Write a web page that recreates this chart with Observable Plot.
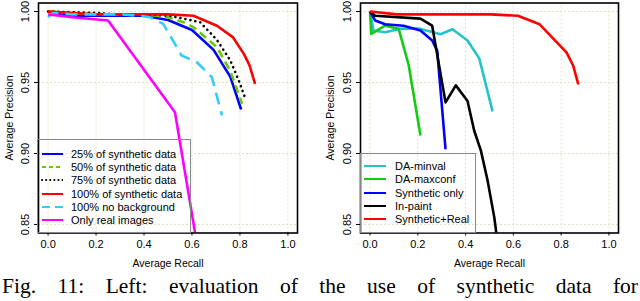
<!DOCTYPE html>
<html><head><meta charset="utf-8">
<script src="https://cdn.jsdelivr.net/npm/d3@7"></script>
<script src="https://cdn.jsdelivr.net/npm/@observablehq/plot@0.6"></script>
<style>
body{margin:0;background:#fff;overflow:hidden;}
#wrap{position:relative;width:640px;height:301px;overflow:hidden;}
.panel{position:absolute;top:0;overflow:visible;}
.legend{position:absolute;border:1px solid #888;box-sizing:border-box;font-family:"Liberation Sans",Arial,sans-serif;font-size:11px;color:#000;}
.legend .row{position:absolute;left:0;height:14px;white-space:nowrap;}
.legend svg{position:absolute;top:0;}
.legend span{position:absolute;top:0;line-height:14px;}
#caption{position:absolute;left:2px;top:276px;width:636px;font-family:"Liberation Serif","Times New Roman",serif;font-size:21.5px;line-height:21px;text-align:justify;text-align-last:justify;color:#000;white-space:nowrap;}
</style>
</head><body>
<div id="wrap"></div>
<script>
// ---- data ----
const xTicks = [0, 0.2, 0.4, 0.6, 0.8, 1.0];
const yTicks = [0.85, 0.90, 0.95, 1.00];

// Left panel
const leftNames = ["25% of synthetic data","50% of synthetic data","75% of synthetic data","100% of synthetic data","100% no background","Only real images"];
const syn25Recall = [0,0.05,0.1,0.2,0.3,0.4,0.5,0.6,0.69,0.76,0.805];
const syn25Prec   = [1.0,0.998,0.997,0.997,0.997,0.997,0.994,0.987,0.973,0.954,0.931];
const syn50Recall = [0,0.1,0.2,0.3,0.4,0.5,0.564,0.606,0.704,0.76,0.809];
const syn50Prec   = [1.0,0.999,0.998,0.998,0.998,0.996,0.9925,0.989,0.975,0.958,0.935];
const syn75Recall = [0,0.1,0.2,0.3,0.4,0.508,0.634,0.704,0.76,0.796,0.823];
const syn75Prec   = [1.0,0.9995,0.999,0.998,0.998,0.997,0.9925,0.98,0.9655,0.951,0.9385];
const syn100Recall = [0,0.1,0.2,0.3,0.4,0.5,0.606,0.704,0.77,0.817,0.84,0.863];
const syn100Prec   = [1.0,0.999,0.998,0.998,0.998,0.998,0.997,0.99,0.982,0.97,0.962,0.949];
const noBgRecall = [0,0.02,0.1,0.2,0.3,0.38,0.424,0.48,0.557,0.62,0.683,0.725];
const noBgPrec   = [0.996,0.999,0.998,0.998,0.998,0.997,0.996,0.9913,0.969,0.9643,0.9537,0.9268];
const realRecall = [0,0.1,0.25,0.529,0.62];
const realPrec   = [0.998,0.996,0.9937,0.929,0.837];

// Right panel
const rightNames = ["DA-minval","DA-maxconf","Synthetic only","In-paint","Synthetic+Real"];
const minvalRecall = [0,0.014,0.063,0.127,0.204,0.295,0.345,0.408,0.457,0.513];
const minvalPrec   = [1.0,0.9866,0.9854,0.9878,0.988,0.984,0.9875,0.9796,0.967,0.9296];
const maxconfRecall = [0,0.005,0.063,0.12,0.162,0.211];
const maxconfPrec   = [1.0,0.9843,0.990,0.9878,0.962,0.9127];
const synOnlyRecall = [0,0.021,0.063,0.14,0.211,0.26,0.281,0.316];
const synOnlyPrec   = [1.0,0.9937,0.991,0.990,0.9866,0.9796,0.9725,0.903];
const inpaintRecall = [0,0.021,0.211,0.26,0.316,0.359,0.408,0.436,0.464,0.492,0.52,0.53];
const inpaintPrec   = [1.0,0.997,0.995,0.990,0.936,0.948,0.937,0.916,0.902,0.881,0.855,0.842];
const synRealRecall = [0,0.113,0.2,0.3,0.4,0.506,0.619,0.71,0.823,0.85,0.872];
const synRealPrec   = [1.0,0.998,0.998,0.998,0.998,0.998,0.997,0.991,0.971,0.962,0.9486];

const caption = "Fig. 11: Left: evaluation of the use of synthetic data for";

// ---- styles ----
const leftStyles = [
  {color:"#0000ff", dash:null, legDash:null},
  {color:"#66cc00", dash:"8,5", legDash:"4,3"},
  {color:"#000000", dash:"0.1,5", legDash:"0.1,4", round:true},
  {color:"#ff0000", dash:null, legDash:null},
  {color:"#33ccff", dash:"12,7", legDash:"8,5"},
  {color:"#ff00ff", dash:null, legDash:null}
];
const rightStyles = [
  {color:"#22c4cc", dash:null, legDash:null},
  {color:"#11cc11", dash:null, legDash:null},
  {color:"#0000ff", dash:null, legDash:null},
  {color:"#000000", dash:null, legDash:null},
  {color:"#ff0000", dash:null, legDash:null}
];

const leftData = [[syn25Recall,syn25Prec],[syn50Recall,syn50Prec],[syn75Recall,syn75Prec],[syn100Recall,syn100Prec],[noBgRecall,noBgPrec],[realRecall,realPrec]];
const rightData = [[minvalRecall,minvalPrec],[maxconfRecall,maxconfPrec],[synOnlyRecall,synOnlyPrec],[inpaintRecall,inpaintPrec],[synRealRecall,synRealPrec]];

function toRows(pair){ return pair[0].map((r,i)=>({r, p: pair[1][i]})); }

function makePanel(data, styles, mLeft, mRight){
  const lines = data.map((pair,i)=>Plot.line(toRows(pair), {
    x:"r", y:"p", stroke: styles[i].color, strokeWidth: 2.6,
    strokeDasharray: styles[i].dash || undefined,
    strokeLinecap: styles[i].round ? "round" : "butt",
    strokeLinejoin: "round", clip: true
  }));
  return Plot.plot({
    width: 320, height: 270,
    marginLeft: mLeft, marginRight: mRight, marginTop: 2.5, marginBottom: 37.5,
    x: {domain: [-0.04, 1.04]},
    y: {domain: [0.844, 1.006]},
    style: {fontFamily: "'Liberation Sans', Arial, sans-serif", fontSize: "11px", background: "transparent", color: "#000", overflow: "visible"},
    marks: [
      Plot.gridX(xTicks, {stroke: "#e8dfb8", strokeOpacity: 1, strokeDasharray: "2,2", strokeWidth: 1}),
      Plot.gridY(yTicks, {stroke: "#e8dfb8", strokeOpacity: 1, strokeDasharray: "2,2", strokeWidth: 1}),
      ...lines,
      Plot.frame({stroke: "#000", strokeWidth: 1.6}),
      Plot.axisX({ticks: xTicks, tickFormat: d3.format(".1f"), tickSize: 3, tickPadding: 4, fontSize: 11, label: null}),
      Plot.axisY({ticks: yTicks, tickFormat: () => "", tickSize: 4, label: null}),
      Plot.text(yTicks, {y: d => d, frameAnchor: "left", dx: -13, rotate: -90, text: d3.format(".2f"), fontSize: 11, textAnchor: "middle", lineAnchor: "middle"}),
      Plot.text(["Average Recall"], {frameAnchor: "bottom", dy: 30.5, textAnchor: "middle", lineAnchor: "middle", fontSize: 10.5}),
      Plot.text(["Average Precision"], {frameAnchor: "left", dx: mLeft === 38 ? -29 : -30, rotate: -90, textAnchor: "middle", lineAnchor: "middle", fontSize: 10.5})
    ]
  });
}

const wrap = document.getElementById("wrap");
const left = makePanel(leftData, leftStyles, 38, 23);
left.classList.add("panel"); left.style.left = "0px";
wrap.appendChild(left);
const right = makePanel(rightData, rightStyles, 40, 22);
right.classList.add("panel"); right.style.left = "320px";
wrap.appendChild(right);

function makeLegend(names, styles, box){
  const lg = document.createElement("div");
  lg.className = "legend";
  Object.assign(lg.style, {left: box.left+"px", top: box.top+"px", width: box.width+"px", height: box.height+"px"});
  names.forEach((name,i)=>{
    const row = document.createElement("div");
    row.className = "row";
    row.style.top = (box.firstRow - box.top - 7 + i*13.3) + "px";
    row.style.width = box.width + "px";
    const st = styles[i];
    row.innerHTML = `<svg width="${box.lineX2}" height="14" style="left:0"><line x1="${box.lineX1}" x2="${box.lineX2}" y1="7" y2="7" stroke="${st.color}" stroke-width="2" ${st.legDash?`stroke-dasharray="${st.legDash}"`:""} ${st.round?'stroke-linecap="round"':""}/></svg><span style="left:${box.textX}px">${name}</span>`;
    lg.appendChild(row);
  });
  wrap.appendChild(lg);
}
makeLegend(leftNames, leftStyles, {left: 37, top: 139, width: 154, height: 94, firstRow: 152.7, lineX1: 4, lineX2: 25, textX: 33});
makeLegend(rightNames, rightStyles, {left: 360, top: 153, width: 116, height: 80, firstRow: 165, lineX1: 3, lineX2: 25, textX: 34});

const cap = document.createElement("div");
cap.id = "caption";
cap.textContent = caption;
wrap.appendChild(cap);
</script>
</body></html>
